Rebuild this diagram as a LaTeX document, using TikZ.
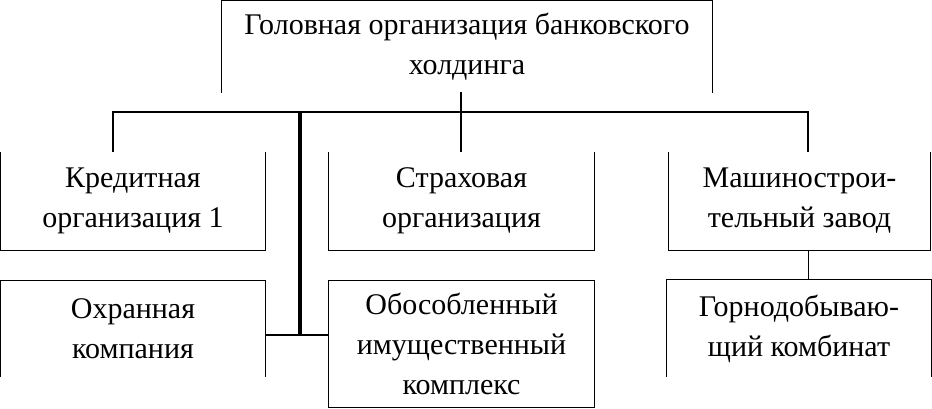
\documentclass[tikz,border=0pt]{standalone}
\usepackage{fontspec}
\setmainfont{Liberation Serif}
\begin{document}
\begin{tikzpicture}[x=1pt,y=-1pt,
  orgbox/.style={draw=none,inner sep=0pt,align=center,font=\fontsize{30}{40}\selectfont},
  edge/.style={line width=1.2pt},
  trunkline/.style={line width=3.5pt}]
\useasboundingbox (0,0) rectangle (932,408);
\node[orgbox,minimum width=490pt,minimum height=92pt] (head) at (467,46.5) {Головная организация банковского\\холдинга};
\node[orgbox,minimum width=264pt,minimum height=98pt] (cred) at (133,201) {Кредитная\\организация 1};
\node[orgbox,minimum width=265pt,minimum height=98pt] (ins) at (461.5,201) {Страховая\\организация};
\node[orgbox,minimum width=261pt,minimum height=98pt] (mach) at (799.5,201) {Машинострои-\\тельный завод};
\node[orgbox,minimum width=264pt,minimum height=96pt] (guard) at (133,329) {Охранная\\компания};
\node[orgbox,minimum width=265pt,minimum height=126pt] (prop) at (461.5,344) {Обособленный\\имущественный\\комплекс};
\node[orgbox,minimum width=264pt,minimum height=97pt] (mine) at (799,328.5) {Горнодобываю-\\щий комбинат};
% box outlines (partial, as printed)
\draw[edge] (head.south west) -- (head.north west) -- (head.north east) -- (head.south east);
\foreach \b in {cred,ins,mach}
  \draw[edge] (\b.north west) -- (\b.south west) -- (\b.south east) -- (\b.north east);
\foreach \b in {guard,mine}
  \draw[edge] (\b.south west) -- (\b.north west) -- (\b.north east) -- (\b.south east);
\draw[edge] (prop.north west) rectangle (prop.south east);
% connectors
\coordinate (hb) at (461,92);
\coordinate (busL) at (113,112);
\coordinate (busR) at (808,112);
\coordinate (trunk) at (300,112);
\coordinate (tj) at (300,335);
\coordinate (mj) at (808.5,250);
\draw[edge] (hb) -- (hb |- ins.north);
\draw[edge] (busL |- cred.north) -- (busL) -- (busR) -- (busR |- mach.north);
\draw[trunkline] (trunk) -- (tj);
\draw[edge] (guard.east |- tj) -- (prop.west |- tj);
\draw[edge] (mj) -- (mj |- mine.north);
\end{tikzpicture}
\end{document}
